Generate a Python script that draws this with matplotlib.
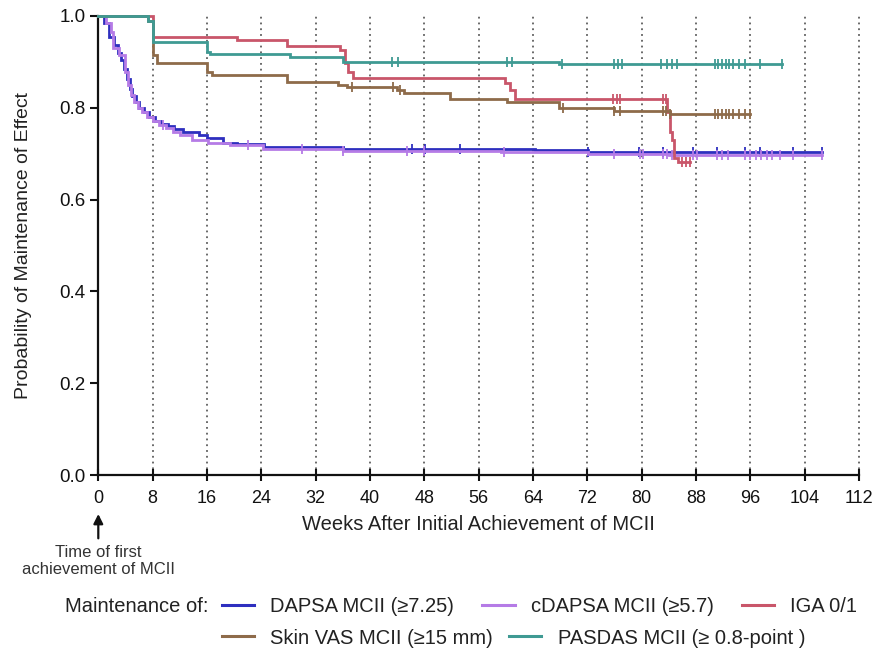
import numpy as np
import matplotlib
matplotlib.use("Agg")
import matplotlib.pyplot as plt
from matplotlib.lines import Line2D

plt.rcParams['font.family'] = ['Liberation Sans', 'DejaVu Sans']

# ---- Kaplan-Meier style step data (weeks, probability) ----
dapsa_t = [0, 0.9, 1.6, 2.3, 2.9, 3.4, 3.8, 4.2, 4.6, 5.0, 5.5, 6.0, 6.8, 7.5,
           8.3, 9.2, 10.2, 11.2, 12.4, 14.8, 16.0, 18.4, 20.4, 24.4, 36.0, 64.3, 72.1]
dapsa_s = [1.0, 0.985, 0.955, 0.937, 0.92, 0.905, 0.885, 0.862, 0.842, 0.826, 0.812,
           0.80, 0.79, 0.78, 0.772, 0.765, 0.76, 0.753, 0.747, 0.74, 0.734, 0.723,
           0.721, 0.715, 0.711, 0.708, 0.703]
dapsa_end = 106.6
dapsa_cens = [46.2, 48.1, 53.2, 72.1, 79.6, 83.1, 87.5, 91.1, 95.2, 97.4, 102.3, 106.6]

cdapsa_t = [0, 1.2, 1.9, 2.1, 3.1, 3.9, 4.3, 4.8, 5.3, 5.8, 6.5, 7.2, 8.0,
            9.0, 10.0, 11.0, 12.0, 13.8, 16.2, 19.4, 24.3, 36.0, 59.3, 72.1, 84.0]
cdapsa_s = [1.0, 0.985, 0.965, 0.93, 0.915, 0.878, 0.85, 0.828, 0.812, 0.80, 0.79,
            0.78, 0.772, 0.762, 0.755, 0.748, 0.74, 0.73, 0.723, 0.719, 0.71, 0.706,
            0.704, 0.70, 0.697]
cdapsa_end = 106.6
cdapsa_cens = [9.5, 22.0, 30.0, 36.0, 45.5, 48.0, 59.8, 76.0, 79.7, 80.2, 83.1, 83.8,
               84.4, 87.5, 88.1, 91.1, 91.9, 92.7, 95.2, 96.0, 96.8, 97.6, 98.4, 99.2,
               100.3, 102.3, 106.6]

iga_t = [0, 8.05, 20.4, 27.8, 35.6, 36.3, 36.7, 37.5, 59.9, 60.6, 61.3,
         83.8, 84.1, 84.4, 84.8, 85.3]
iga_s = [1.0, 0.955, 0.948, 0.935, 0.926, 0.898, 0.878, 0.865, 0.854, 0.839, 0.82,
         0.79, 0.747, 0.73, 0.69, 0.682]
iga_end = 87.1
iga_cens = [75.8, 76.3, 76.8, 83.1, 83.6, 85.9, 86.5, 87.1]

skin_t = [0, 7.3, 8.05, 8.6, 16.0, 16.7, 27.8, 35.3, 36.6, 44.0, 45.0, 51.8,
          60.2, 67.9, 76.0, 84.1]
skin_s = [1.0, 0.99, 0.915, 0.897, 0.878, 0.871, 0.856, 0.85, 0.845, 0.838, 0.832,
          0.82, 0.813, 0.80, 0.793, 0.786]
skin_end = 95.9
skin_cens = [37.3, 43.4, 44.4, 68.4, 76.0, 76.8, 83.1, 83.6, 84.1, 90.8, 91.3, 91.8,
             92.4, 92.9, 93.4, 94.4, 95.2, 95.9]

pasdas_t = [0, 7.3, 8.05, 16.0, 16.4, 28.2, 36.0, 67.9]
pasdas_s = [1.0, 0.99, 0.943, 0.922, 0.918, 0.911, 0.90, 0.895]
pasdas_end = 100.6
pasdas_cens = [43.2, 44.1, 60.2, 60.9, 68.2, 76.0, 76.5, 77.1, 82.9, 83.7, 84.5, 85.2,
               90.8, 91.3, 91.8, 92.4, 92.9, 93.4, 94.4, 95.2, 97.4, 100.6]

labels = ['DAPSA MCII (\u22657.25)', 'cDAPSA MCII (\u22655.7)', 'IGA 0/1',
          'Skin VAS MCII (\u226515 mm)', 'PASDAS MCII (\u2265 0.8-point )']
colors = ['#2e2fbf', '#b57be6', '#c9566a', '#8e6b4a', '#3f9a93']

x_ticks = list(range(0, 113, 8))
y_ticks = [0.0, 0.2, 0.4, 0.6, 0.8, 1.0]

series = [
    (dapsa_t, dapsa_s, dapsa_end, dapsa_cens),
    (cdapsa_t, cdapsa_s, cdapsa_end, cdapsa_cens),
    (iga_t, iga_s, iga_end, iga_cens),
    (skin_t, skin_s, skin_end, skin_cens),
    (pasdas_t, pasdas_s, pasdas_end, pasdas_cens),
]

fig = plt.figure(figsize=(8.76, 6.55), dpi=100)
ax = fig.add_axes([98.3 / 876, 1 - 475 / 655, (859 - 98.3) / 876, (475 - 16) / 655])

# dotted reference lines every 8 weeks
for xt in x_ticks[1:]:
    ax.plot([xt, xt], [0, 1.0], color='#5e5e5e', lw=1.3,
            linestyle=(0, (1, 2.2)), zorder=1, clip_on=False)

# draw order: put the lower-lying curves first
order = [3, 4, 2, 0, 1]
for i in order:
    t, s, end, cens = series[i]
    tt = list(t) + [end]
    ss = list(s) + [s[-1]]
    ax.step(tt, ss, where='post', color=colors[i], lw=2.0, zorder=3 + i * 0.1,
            clip_on=False, solid_joinstyle='miter')
    tarr = np.asarray(t)
    idx = np.searchsorted(tarr, cens, side='right') - 1
    cy = np.asarray(s)[idx]
    ax.plot(cens, cy, linestyle='none', marker='|', markersize=7, mew=1.3,
            color=colors[i], zorder=3 + i * 0.1, clip_on=False)

ax.set_xlim(0, 112)
ax.set_ylim(0, 1.0)
ax.set_xticks(x_ticks)
ax.set_yticks(y_ticks)
ax.set_yticklabels([f'{v:.1f}' for v in y_ticks])
ax.spines['top'].set_visible(False)
ax.spines['right'].set_visible(False)
for sp in ('left', 'bottom'):
    ax.spines[sp].set_linewidth(1.6)
    ax.spines[sp].set_color('#111111')
ax.tick_params(axis='x', direction='inout', length=9, width=1.5, labelsize=13,
               pad=6, colors='#111111')
ax.tick_params(axis='y', direction='out', length=6, width=1.5, labelsize=13.5,
               pad=3, colors='#111111')

ax.set_xlabel('Weeks After Initial Achievement of MCII', fontsize=14.5, labelpad=6,
              color='#222222')
ax.set_ylabel('Probability of Maintenance of Effect', fontsize=14, labelpad=20,
              color='#222222')

# arrow marking week 0
ax.annotate('', xy=(0, -0.085), xytext=(0, -0.138), xycoords=('data', 'axes fraction'),
            arrowprops=dict(arrowstyle='-|>', color='#111111', lw=1.6,
                            mutation_scale=14, shrinkA=0, shrinkB=0),
            annotation_clip=False)
ax.text(0, -0.152, 'Time of first\nachievement of MCII', transform=ax.get_xaxis_transform(),
        ha='center', va='top', fontsize=12, color='#333333', linespacing=1.2)

# legend
handles = [Line2D([0], [0], color=c, lw=2.2) for c in colors]
fig.text(65 / 876, 1 - 607 / 655, 'Maintenance of:', fontsize=14.5, va='center',
         ha='left', color='#222222')
leg1 = fig.legend(handles[:3], labels[:3], ncol=3, frameon=False, fontsize=14.5,
                  loc='center left', bbox_to_anchor=(222 / 876, 1 - 607 / 655),
                  handlelength=1.6, handletextpad=0.8, columnspacing=1.4,
                  borderpad=0, borderaxespad=0)
leg2 = fig.legend(handles[3:], labels[3:], ncol=2, frameon=False, fontsize=14.5,
                  loc='center left', bbox_to_anchor=(222 / 876, 1 - 638 / 655),
                  handlelength=1.6, handletextpad=0.8, columnspacing=0.8,
                  borderpad=0, borderaxespad=0)
for lg in (leg1, leg2):
    for txt in lg.get_texts():
        txt.set_color('#222222')

fig.savefig('out.png', dpi=100)
